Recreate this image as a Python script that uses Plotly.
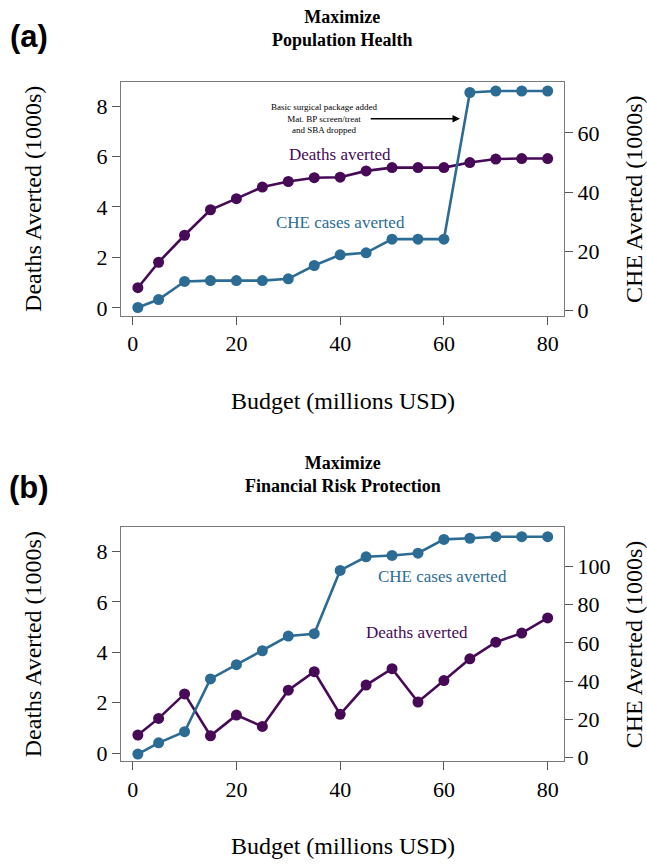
import plotly.graph_objects as go

budget = [1, 5, 10, 15, 20, 25, 30, 35, 40, 45, 50, 55, 60, 65, 70, 75, 80]

# Panel (a): Maximize Population Health
deaths_a = [0.80, 1.81, 2.88, 3.89, 4.33, 4.79, 5.01, 5.16, 5.18, 5.43, 5.56, 5.56, 5.56, 5.76, 5.90, 5.92, 5.92]
che_a = [1.0, 3.7, 9.8, 10.1, 10.1, 10.1, 10.7, 15.2, 18.8, 19.5, 24.1, 24.1, 24.1, 73.7, 74.2, 74.2, 74.2]

# Panel (b): Maximize Financial Risk Protection
deaths_b = [0.72, 1.38, 2.35, 0.69, 1.51, 1.06, 2.50, 3.23, 1.54, 2.70, 3.35, 2.03, 2.88, 3.74, 4.40, 4.76, 5.36]
che_b = [1.9, 7.8, 13.6, 41.2, 48.6, 55.9, 63.6, 64.8, 97.9, 105.0, 105.7, 106.9, 114.1, 114.7, 115.5, 115.5, 115.5]

x_ticks = [0, 20, 40, 60, 80]
left_ticks = [0, 2, 4, 6, 8]
right_ticks_a = [0, 20, 40, 60]
right_ticks_b = [0, 20, 40, 60, 80, 100]

PURPLE = "#460a57"
BLUE = "#2c6b94"
SERIF = "Liberation Serif"
W, H = 647, 864

fig = go.Figure()

def add_series(x, y, xa, ya, color):
    fig.add_trace(go.Scatter(
        x=x, y=y, xaxis=xa, yaxis=ya, mode="lines+markers",
        line=dict(color=color, width=2.6),
        marker=dict(color=color, size=11),
        showlegend=False, hoverinfo="skip"))

add_series(budget, deaths_a, "x", "y", PURPLE)
add_series(budget, che_a, "x", "y2", BLUE)
add_series(budget, deaths_b, "x2", "y3", PURPLE)
add_series(budget, che_b, "x2", "y4", BLUE)

xdom = [121 / W, 564 / W]
ydom_a = [1 - 319.3 / H, 1 - 82.7 / H]
ydom_b = [1 - 769.3 / H, 1 - 532.7 / H]

axis_common = dict(showgrid=False, zeroline=False, showline=True, linecolor="#7a7a7a",
                   linewidth=1.2, ticks="outside", ticklen=8, tickcolor="#555555",
                   tickwidth=1.2, tickfont=dict(family=SERIF, size=22, color="black"))

xr = [-2.25, 83.15]
yr = [-0.32, 8.96]

fig.update_layout(
    width=W, height=H, margin=dict(l=0, r=0, t=0, b=0),
    paper_bgcolor="white", plot_bgcolor="white",
    xaxis=dict(domain=xdom, anchor="y", range=xr, tickvals=x_ticks, mirror=True, **axis_common),
    yaxis=dict(domain=ydom_a, anchor="x", range=yr, tickvals=left_ticks, mirror=True, **axis_common),
    yaxis2=dict(overlaying="y", side="right", anchor="x", range=[-1.87, 77.3],
                tickvals=right_ticks_a, **axis_common),
    xaxis2=dict(domain=xdom, anchor="y3", range=xr, tickvals=x_ticks, mirror=True, **axis_common),
    yaxis3=dict(domain=ydom_b, anchor="x2", range=yr, tickvals=left_ticks, mirror=True, **axis_common),
    yaxis4=dict(overlaying="y3", side="right", anchor="x2", range=[-1.86, 120.5],
                tickvals=right_ticks_b, **axis_common),
)

ann = []

def paper_text(text, px, py, size, bold=False, family=SERIF, angle=0):
    ann.append(dict(text=f"<b>{text}</b>" if bold else text, x=px / W, y=1 - py / H,
                    xref="paper", yref="paper", showarrow=False, xanchor="center",
                    yanchor="middle", textangle=angle,
                    font=dict(family=family, size=size, color="black")))

for off, lab, title in [(0, "(a)", "Maximize<br>Population Health"),
                        (450, "(b)", "Maximize<br>Financial Risk Protection")]:
    paper_text(title, 342.5, 29 + off, 18, bold=True)
    paper_text(lab, 29, 37 + off + (6 if off else 0), 31, bold=True, family="Liberation Sans")
    paper_text("Deaths Averted (1000s)", 33, 201 + off, 24, angle=-90)
    paper_text("CHE Averted (1000s)", 634, 201 + off, 24, angle=-90)
    paper_text("Budget (millions USD)", 343, 405 + off, 24)

def data_text(text, x, y, xa, ya, color, size):
    ann.append(dict(text=text, x=x, y=y, xref=xa, yref=ya, showarrow=False,
                    xanchor="center", yanchor="middle",
                    font=dict(family=SERIF, size=size, color=color)))

data_text("Deaths averted", 40.0, 6.08, "x", "y", PURPLE, 17)
data_text("CHE cases averted", 40.0, 3.37, "x", "y", BLUE, 17)
data_text("Basic surgical package added<br>Mat. BP screen/treat<br>and SBA dropped",
          36.9, 7.50, "x", "y", "black", 9)
ann.append(dict(text="", x=63.1, y=7.50, ax=45.6, ay=7.50, xref="x", yref="y",
                axref="x", ayref="y", showarrow=True, arrowhead=2, arrowsize=1,
                arrowwidth=1.5, arrowcolor="black"))
data_text("CHE cases averted", 59.8, 7.0, "x2", "y3", BLUE, 17)
data_text("Deaths averted", 54.8, 4.77, "x2", "y3", PURPLE, 17)

fig.update_layout(annotations=ann)
fig.write_html("out.html", config={"displayModeBar": False},
               post_script="document.body.style.margin='0';document.body.style.overflow='hidden';")
